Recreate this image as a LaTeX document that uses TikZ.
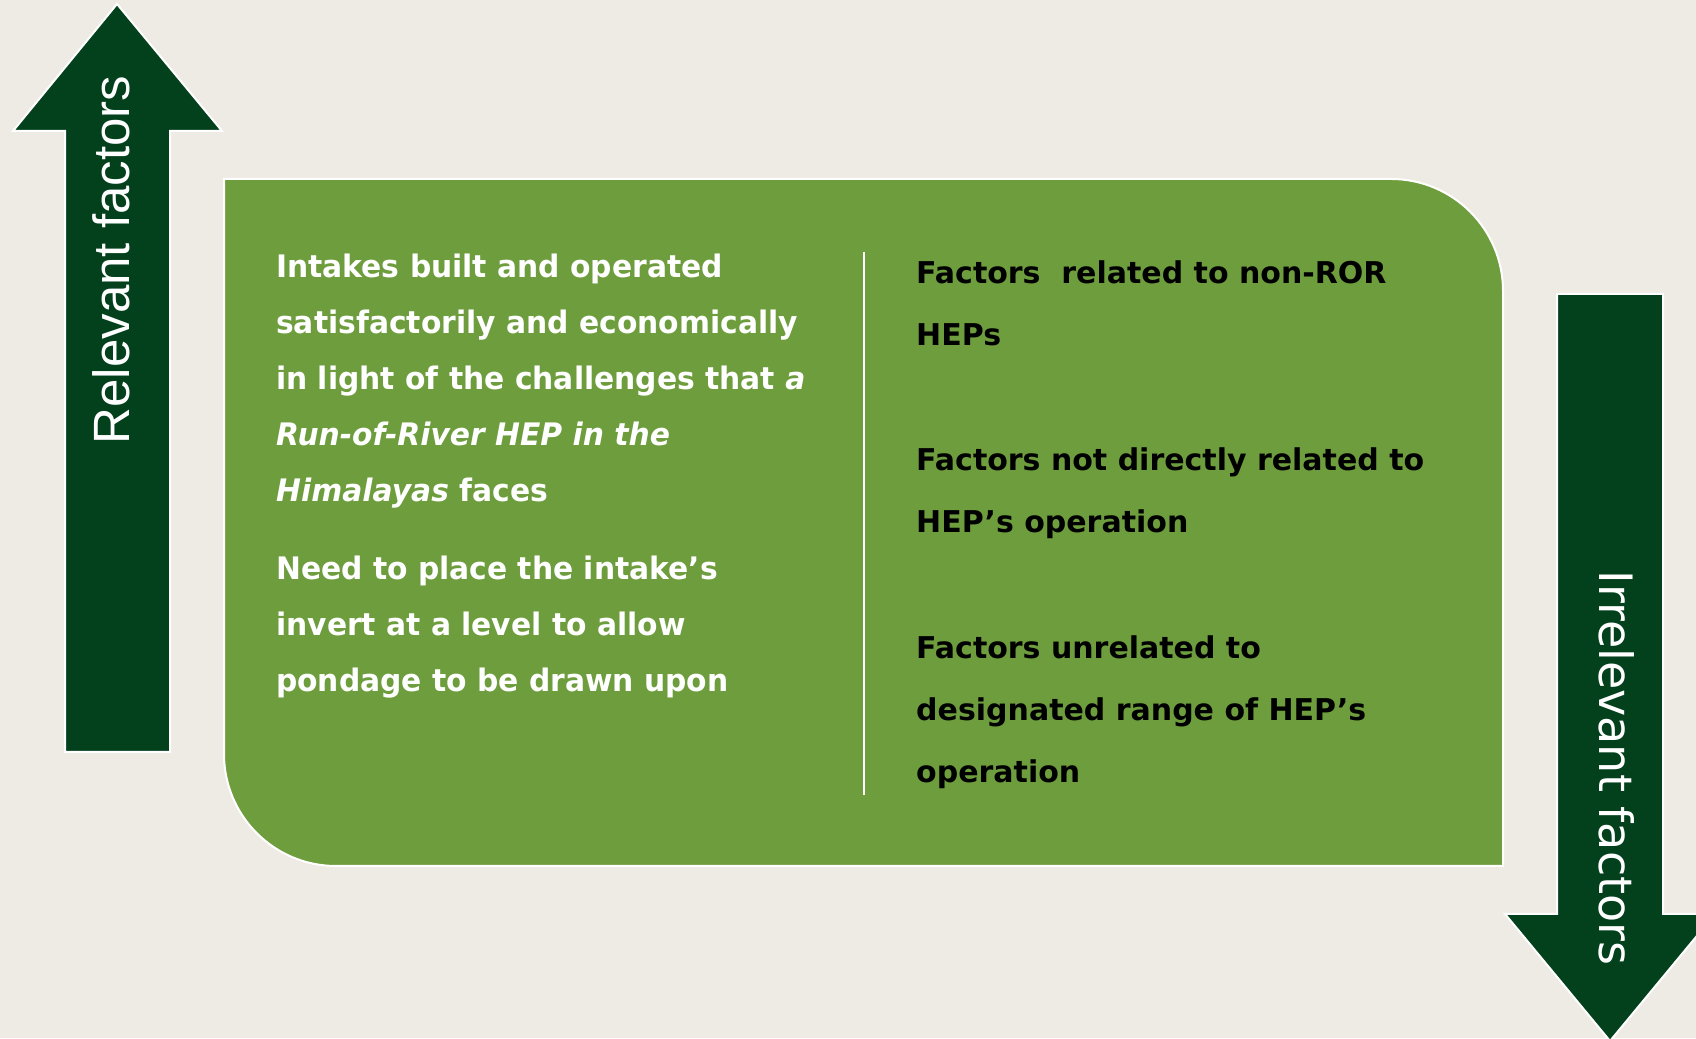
\documentclass[tikz,border=0pt]{standalone}
\usepackage{fontspec}
\setmainfont{DejaVu Sans}
\newfontfamily\bodyfont[FakeStretch=0.96]{DejaVu Sans}
\newfontfamily\factorfont{DejaVu Sans}
\newfontfamily\sidefont{DejaVu Sans}
\newfontfamily\uparrowfont{Liberation Sans}
\definecolor{bg}{HTML}{EEEBE4}
\definecolor{leaf}{HTML}{6E9D3D}
\definecolor{forest}{HTML}{03411D}
\begin{document}
\begin{tikzpicture}[x=1pt,y=1pt,
  bigarrow/.style={fill=forest,draw=white,line width=2pt,line join=miter},
  panel/.style={fill=leaf,draw=white,line width=2pt},
  whitetext/.style={text=white,inner sep=0pt,align=left,anchor=base west,
    font=\bodyfont\bfseries\fontsize{31}{56}\selectfont},
  darktext/.style={text=black,inner sep=0pt,align=left,anchor=base west,
    font=\factorfont\bfseries\fontsize{30}{62}\selectfont},
  sidelabel/.style={text=white,inner sep=0pt,anchor=base}]
\clip (0,0) rectangle (1696,1038);
\fill[bg] (0,0) rectangle (1696,1038);

% upward arrow on the left
\draw[bigarrow] (117,1034) -- (222,907) -- (170,907) -- (170,286)
  -- (65,286) -- (65,907) -- (13,907) -- cycle;
% downward arrow on the right
\draw[bigarrow] (1557,744) -- (1663,744) -- (1663,124) -- (1715,124)
  -- (1610,-3) -- (1505,124) -- (1557,124) -- cycle;

% central panel with two rounded corners
\draw[panel] (224,859) -- (1391,859) arc[start angle=90,end angle=0,radius=112]
  -- (1503,172) -- (336,172) arc[start angle=270,end angle=180,radius=112] -- cycle;

% column divider
\coordinate (divtop) at (864,786);
\coordinate (divbot) at (864,243);
\draw[white,line width=2pt] (divtop) -- (divbot);

% left column (each node is placed by the baseline of its last line)
\node[whitetext] (intakes) at (276,536)
  {Intakes built and operated\\
   satisfactorily and economically\\
   in light of the challenges that \textit{a}\\
   \textit{Run-of-River HEP in the}\\
   \textit{Himalayas} faces};
\node[whitetext] (pondage) at (276,346)
  {Need to place the intake’s\\
   invert at a level to allow\\
   pondage to be drawn upon};

% right column
\node[darktext] (nonror) at (916,692)
  {Factors~ related to non-ROR\\ HEPs};
\node[darktext] (notdirect) at (916,505)
  {Factors not directly related to\\ HEP’s operation};
\node[darktext] (unrelated) at (916,255)
  {Factors unrelated to\\ designated range of HEP’s\\ operation};

% arrow labels
\node[sidelabel,rotate=90,font=\uparrowfont\fontsize{51}{51}\selectfont]
  (relevant) at (129,778) {Relevant factors};
\node[sidelabel,rotate=-90,font=\sidefont\fontsize{46}{46}\selectfont]
  (irrelevant) at (1599,270) {Irrelevant factors};
\end{tikzpicture}
\end{document}
